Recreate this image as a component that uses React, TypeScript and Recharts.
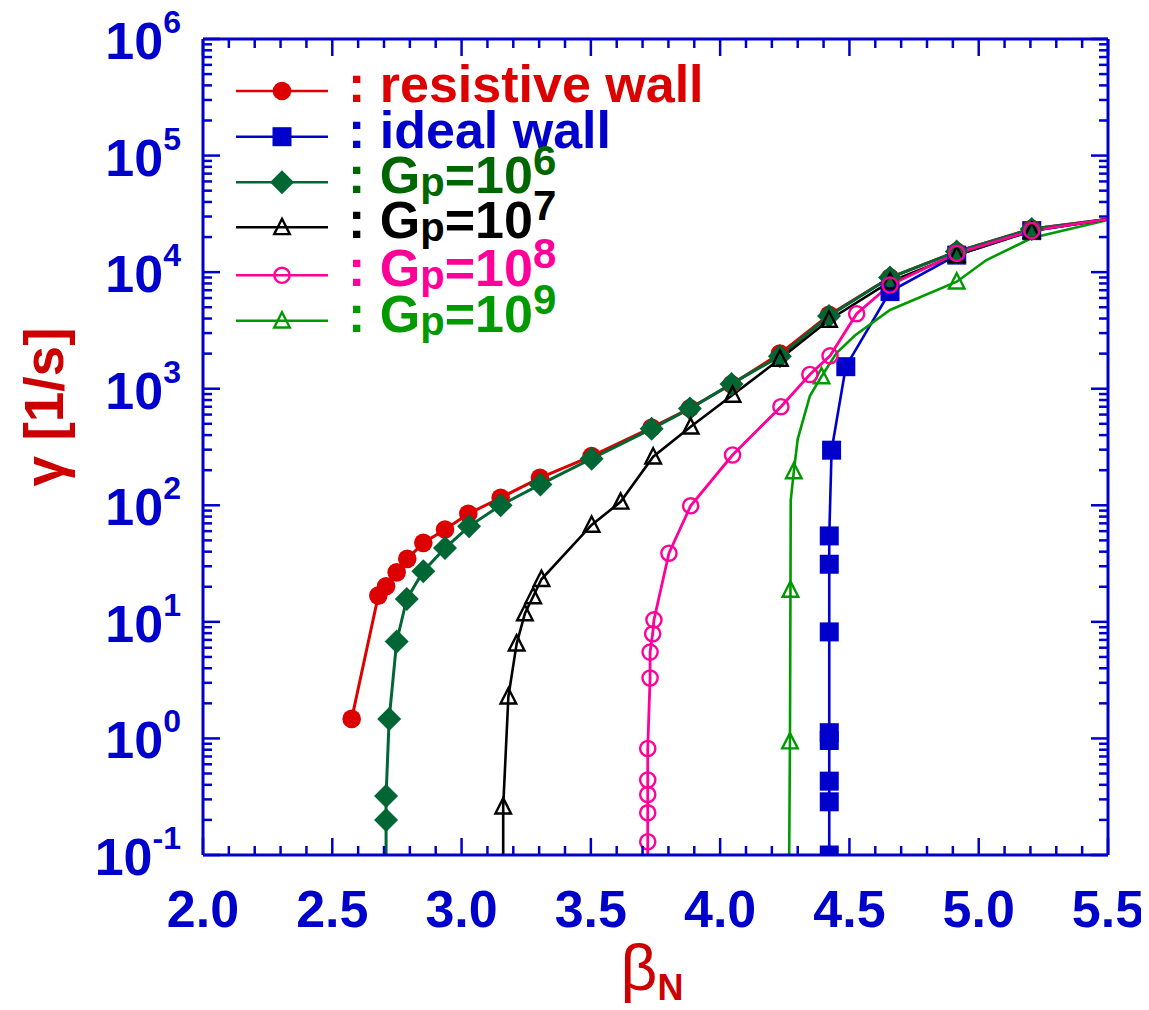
import React from 'react';
import { LineChart, Line, XAxis, YAxis } from 'recharts';

// ---------- data ----------
// resistive wall
const resBeta = [2.575, 2.678, 2.708, 2.749, 2.79, 2.852, 2.936, 3.026, 3.151, 3.303, 3.503, 3.735, 3.883, 4.044, 4.231, 4.421, 4.657, 4.915, 5.205, 5.5];
const resGamma = [1.47, 16.8, 20.2, 26.6, 34.7, 47.6, 62, 84.5, 116, 172, 264, 463, 680, 1091, 2000, 4300, 9000, 15000, 23500, 28500];
const resMark = [1, 1, 1, 1, 1, 1, 1, 1, 1, 1, 1, 1, 1, 1, 1, 1, 1, 1, 1, 0];

// ideal wall
const idealBeta = [4.422, 4.422, 4.422, 4.422, 4.422, 4.422, 4.422, 4.422, 4.431, 4.486, 4.657, 4.915, 5.205, 5.5];
const idealGamma = [0.1, 0.286, 0.43, 0.96, 1.12, 8.2, 31.2, 54.6, 297, 1545, 6810, 14000, 22700, 28500];
const idealMark = [1, 1, 1, 1, 1, 1, 1, 1, 1, 1, 1, 1, 1, 0];

// Gp = 10^6
const g6Beta = [2.708, 2.708, 2.708, 2.72, 2.749, 2.788, 2.852, 2.936, 3.029, 3.151, 3.305, 3.503, 3.735, 3.883, 4.044, 4.231, 4.421, 4.657, 4.915, 5.205, 5.5];
const g6Gamma = [0.1, 0.2, 0.32, 1.47, 6.8, 15.7, 27.2, 43, 66, 100, 151, 251, 453, 675, 1100, 1900, 4200, 9000, 15000, 23500, 28500];
const g6Mark = [0, 1, 1, 1, 1, 1, 1, 1, 1, 1, 1, 1, 1, 1, 1, 1, 1, 1, 1, 1, 0];

// Gp = 10^7
const g7Beta = [3.161, 3.161, 3.181, 3.213, 3.245, 3.277, 3.309, 3.503, 3.615, 3.741, 3.886, 4.048, 4.231, 4.421, 4.657, 4.915, 5.205, 5.5];
const g7Gamma = [0.1, 0.26, 2.28, 6.5, 11.8, 16.5, 23.2, 67.8, 107, 261, 472, 883, 1800, 3890, 8300, 14000, 22500, 28500];
const g7Mark = [0, 1, 1, 1, 1, 1, 1, 1, 1, 1, 1, 1, 1, 1, 1, 1, 1, 0];

// Gp = 10^8
const g8Beta = [3.72, 3.72, 3.72, 3.72, 3.72, 3.72, 3.729, 3.729, 3.739, 3.744, 3.802, 3.886, 4.048, 4.235, 4.347, 4.425, 4.528, 4.657, 4.915, 5.205, 5.5];
const g8Gamma = [0.1, 0.13, 0.23, 0.33, 0.44, 0.82, 3.3, 5.5, 7.9, 10.4, 38.8, 99, 270, 701, 1324, 1914, 4400, 7760, 14500, 22700, 28500];
const g8Mark = [0, 1, 1, 1, 1, 1, 1, 1, 1, 1, 1, 1, 1, 1, 1, 1, 1, 1, 1, 1, 0];

// Gp = 10^9
const g9Beta = [4.267, 4.27, 4.272, 4.273, 4.285, 4.3, 4.347, 4.392, 4.45, 4.521, 4.657, 4.915, 5.03, 5.205, 5.5];
const g9Gamma = [0.1, 0.94, 18.8, 110, 195, 370, 866, 1274, 2020, 2860, 4740, 8280, 12700, 19600, 28000];
const g9Mark = [0, 1, 1, 0, 1, 0, 0, 1, 0, 0, 0, 1, 0, 0, 0];

// axis ticks
const xTicks = [2.0, 2.1, 2.2, 2.3, 2.4, 2.5, 2.6, 2.7, 2.8, 2.9, 3.0, 3.1, 3.2, 3.3, 3.4, 3.5, 3.6, 3.7, 3.8, 3.9, 4.0, 4.1, 4.2, 4.3, 4.4, 4.5, 4.6, 4.7, 4.8, 4.9, 5.0, 5.1, 5.2, 5.3, 5.4, 5.5];
const xTickLabels = ['2.0', '2.5', '3.0', '3.5', '4.0', '4.5', '5.0', '5.5'];
const yDecadeExponents = [-1, 0, 1, 2, 3, 4, 5, 6];
const yMinorDigits = [1, 2, 3, 4, 5, 6, 7, 8, 9];

// ---------- styling ----------
const AX = '#0000CC';
const FONT = '"Liberation Sans", Arial, Helvetica, sans-serif';
const C_RED = '#DD0000';
const C_BLUE = '#0000CC';
const C_DKGREEN = '#006633';
const C_BLACK = '#000000';
const C_PINK = '#FF0099';
const C_GREEN = '#009900';

const W = 1141;
const H = 1000;
const PL = 195, PT = 31, PR = 1100, PB = 847;
const XB_H = 100, XT_H = 10, YL_W = 150, YR_W = 10;

const yTicks: number[] = [];
yDecadeExponents.forEach((e) => {
  if (e === 6) { yTicks.push(1e6); return; }
  yMinorDigits.forEach((d) => yTicks.push(Number((d * Math.pow(10, e)).toPrecision(6))));
});

type Pt = { x: number; y: number; m: number };
const build = (xs: number[], ys: number[], ms: number[]): Pt[] => xs.map((x, i) => ({ x, y: ys[i], m: ms[i] }));

const resData = build(resBeta, resGamma, resMark);
const idealData = build(idealBeta, idealGamma, idealMark);
const g6Data = build(g6Beta, g6Gamma, g6Mark);
const g7Data = build(g7Beta, g7Gamma, g7Mark);
const g8Data = build(g8Beta, g8Gamma, g8Mark);
const g9Data = build(g9Beta, g9Gamma, g9Mark);

type Kind = 'circle' | 'square' | 'diamond' | 'triangle' | 'ocircle';

function marker(kind: Kind, color: string, cx: number, cy: number) {
  switch (kind) {
    case 'circle':
      return <circle cx={cx} cy={cy} r={9.3} fill={color} />;
    case 'square':
      return <rect x={cx - 9.5} y={cy - 9.5} width={19} height={19} fill={color} />;
    case 'diamond':
      return <polygon points={`${cx},${cy - 12} ${cx + 12},${cy} ${cx},${cy + 12} ${cx - 12},${cy}`} fill={color} />;
    case 'triangle':
      return <polygon points={`${cx},${cy - 8.5} ${cx + 7.8},${cy + 6.8} ${cx - 7.8},${cy + 6.8}`} fill="none" stroke={color} strokeWidth={2.4} strokeLinejoin="miter" />;
    case 'ocircle':
      return <circle cx={cx} cy={cy} r={7.6} fill="none" stroke={color} strokeWidth={2.4} />;
  }
  return null;
}

const makeDot = (kind: Kind, color: string) => (p: any) => {
  const { cx, cy, payload, index } = p;
  if (!payload || !payload.m || cx == null || cy == null || isNaN(cx) || isNaN(cy)) return <g key={`d${index}`} />;
  return <g key={`d${index}`}>{marker(kind, color, cx, cy)}</g>;
};

const isMajorY = (v: number) => {
  const e = Math.log10(v);
  return Math.abs(e - Math.round(e)) < 1e-6;
};
const xLabelFor = (v: number) => xTickLabels.find((s) => Math.abs(parseFloat(s) - v) < 1e-6);

const XTickBottom = (props: any) => {
  const { x, y, payload } = props;
  const lab = xLabelFor(payload.value);
  return (
    <g>
      <line x1={x} x2={x} y1={y} y2={y - (lab ? 17 : 9)} stroke={AX} strokeWidth={2.5} />
      {lab && (
        <text x={x} y={y + 72} textAnchor="middle" fontSize={52} fontWeight="bold" fill={AX} fontFamily={FONT}>
          {lab}
        </text>
      )}
    </g>
  );
};

const XTickTop = (props: any) => {
  const { x, y, payload } = props;
  const lab = xLabelFor(payload.value);
  return <line x1={x} x2={x} y1={y} y2={y + (lab ? 17 : 9)} stroke={AX} strokeWidth={2.5} />;
};

const YTickLeft = (props: any) => {
  const { x, y, payload } = props;
  const v = payload.value;
  const major = isMajorY(v);
  const e = Math.round(Math.log10(v));
  return (
    <g>
      <line x1={x} x2={x + (major ? 17 : 9)} y1={y} y2={y} stroke={AX} strokeWidth={2.5} />
      {major && (
        <text x={x - 22} y={y + 20} textAnchor="end" fontSize={52} fontWeight="bold" fill={AX} fontFamily={FONT}>
          10
          <tspan dy={-26} fontSize={32}>{String(e)}</tspan>
        </text>
      )}
    </g>
  );
};

const YTickRight = (props: any) => {
  const { x, y, payload } = props;
  const major = isMajorY(payload.value);
  return <line x1={x} x2={x - (major ? 17 : 9)} y1={y} y2={y} stroke={AX} strokeWidth={2.5} />;
};

type LegendRow = { kind: Kind; color: string; textColor: string; label: string; exp?: string };
const legendRows: LegendRow[] = [
  { kind: 'circle', color: C_RED, textColor: C_RED, label: 'resistive wall' },
  { kind: 'square', color: C_BLUE, textColor: C_BLUE, label: 'ideal wall' },
  { kind: 'diamond', color: C_DKGREEN, textColor: '#006600', label: 'Gp', exp: '6' },
  { kind: 'triangle', color: C_BLACK, textColor: '#000000', label: 'Gp', exp: '7' },
  { kind: 'ocircle', color: C_PINK, textColor: C_PINK, label: 'Gp', exp: '8' },
  { kind: 'triangle', color: C_GREEN, textColor: C_GREEN, label: 'Gp', exp: '9' },
];
const legendY = [83, 128.7, 174.3, 219.3, 267.3, 312.7];

const Overlay = () => (
  <svg width={W} height={H} style={{ position: 'absolute', left: 0, top: 0, pointerEvents: 'none', overflow: 'visible' }}>
    {legendRows.map((r, i) => {
      const cy = legendY[i];
      return (
        <g key={i}>
          <line x1={228} x2={320} y1={cy} y2={cy} stroke={r.color} strokeWidth={2.6} />
          {marker(r.kind, r.color, 274, cy)}
          <text x={340} y={cy + 11} fontSize={52} fontWeight="bold" fill={r.textColor} fontFamily={FONT}>
            {r.exp ? (
              <>
                {': G'}
                <tspan fontSize={40} dy={3}>p</tspan>
                <tspan dy={-3}>=10</tspan>
                <tspan fontSize={42} dy={-18}>{r.exp}</tspan>
              </>
            ) : (
              ': ' + r.label
            )}
          </text>
        </g>
      );
    })}
    {/* axis titles */}
    <text x={644} y={982} textAnchor="middle" fill="#CC0000" fontFamily={FONT}>
      <tspan fontSize={64}>β</tspan>
      <tspan fontSize={36} fontWeight="bold" dy={10}>N</tspan>
    </text>
    <text
      x={55}
      y={399}
      transform="rotate(-90, 55, 399)"
      textAnchor="middle"
      fontSize={55}
      fontWeight="bold"
      fill="#CC0000"
      fontFamily={FONT}
    >
      γ [1/s]
    </text>
  </svg>
);

export default function App() {
  return (
    <div style={{ position: 'relative', width: W, height: H }}>
      <LineChart
        width={W}
        height={H}
        style={{ overflow: 'visible' }}
        margin={{ top: PT - XT_H, left: PL - YL_W, right: W - PR - YR_W, bottom: H - PB - XB_H }}
      >
        <XAxis
          dataKey="x"
          type="number"
          domain={[2, 5.5]}
          allowDataOverflow
          ticks={xTicks}
          interval={0}
          height={XB_H}
          tickSize={0}
          tickMargin={0}
          axisLine={{ stroke: AX, strokeWidth: 3 }}
          tick={(p: any) => <XTickBottom {...p} />}
        />
        <XAxis
          xAxisId="top"
          orientation="top"
          dataKey="x"
          type="number"
          domain={[2, 5.5]}
          allowDataOverflow
          ticks={xTicks}
          interval={0}
          height={XT_H}
          tickSize={0}
          tickMargin={0}
          axisLine={{ stroke: AX, strokeWidth: 3 }}
          tick={(p: any) => <XTickTop {...p} />}
        />
        <YAxis
          type="number"
          scale="log"
          domain={[0.1, 1e6]}
          allowDataOverflow
          ticks={yTicks}
          interval={0}
          width={YL_W}
          tickSize={0}
          tickMargin={0}
          axisLine={{ stroke: AX, strokeWidth: 3 }}
          tick={(p: any) => <YTickLeft {...p} />}
        />
        <YAxis
          yAxisId="right"
          orientation="right"
          type="number"
          scale="log"
          domain={[0.1, 1e6]}
          allowDataOverflow
          ticks={yTicks}
          interval={0}
          width={YR_W}
          tickSize={0}
          tickMargin={0}
          axisLine={{ stroke: AX, strokeWidth: 3 }}
          tick={(p: any) => <YTickRight {...p} />}
        />
        <Line data={idealData} dataKey="y" type="linear" stroke={C_BLUE} strokeWidth={2.6} dot={makeDot('square', C_BLUE)} activeDot={false} isAnimationActive={false} />
        <Line data={resData} dataKey="y" type="linear" stroke={C_RED} strokeWidth={3} dot={makeDot('circle', C_RED)} activeDot={false} isAnimationActive={false} />
        <Line data={g6Data} dataKey="y" type="linear" stroke={C_DKGREEN} strokeWidth={3} dot={makeDot('diamond', C_DKGREEN)} activeDot={false} isAnimationActive={false} />
        <Line data={g9Data} dataKey="y" type="linear" stroke={C_GREEN} strokeWidth={2.6} dot={makeDot('triangle', C_GREEN)} activeDot={false} isAnimationActive={false} />
        <Line data={g7Data} dataKey="y" type="linear" stroke={C_BLACK} strokeWidth={2.6} dot={makeDot('triangle', C_BLACK)} activeDot={false} isAnimationActive={false} />
        <Line data={g8Data} dataKey="y" type="linear" stroke={C_PINK} strokeWidth={2.8} dot={makeDot('ocircle', C_PINK)} activeDot={false} isAnimationActive={false} />
      </LineChart>
      <Overlay />
    </div>
  );
}
